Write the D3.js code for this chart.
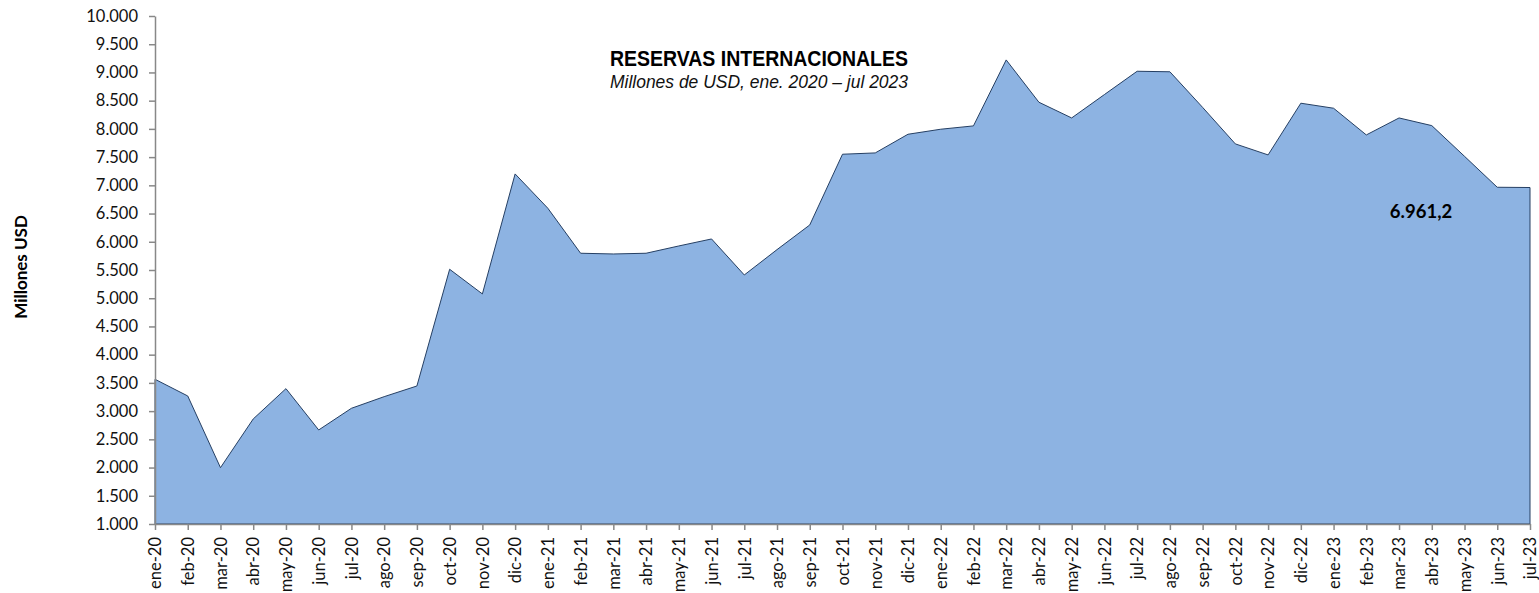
<!DOCTYPE html>
<html>
<head>
<meta charset="utf-8">
<script src="https://cdn.jsdelivr.net/npm/d3@7"></script>
<style>
  html, body { margin: 0; padding: 0; background: #ffffff; }
  svg { display: block; }
</style>
</head>
<body>
<svg id="chart" width="1539" height="593"></svg>
<script>
// Monthly international reserves, millions of USD
const months = [
  "ene-20","feb-20","mar-20","abr-20","may-20","jun-20","jul-20","ago-20","sep-20","oct-20","nov-20","dic-20",
  "ene-21","feb-21","mar-21","abr-21","may-21","jun-21","jul-21","ago-21","sep-21","oct-21","nov-21","dic-21",
  "ene-22","feb-22","mar-22","abr-22","may-22","jun-22","jul-22","ago-22","sep-22","oct-22","nov-22","dic-22",
  "ene-23","feb-23","mar-23","abr-23","may-23","jun-23","jul-23"
];
const reserves = [
  3564, 3268, 1998, 2861, 3398, 2666, 3050, 3256, 3445, 5513, 5076, 7202,
  6594, 5797, 5784, 5797, 5926, 6050, 5412, 5861, 6298, 7551, 7574, 7905,
  7994, 8053, 9222, 8472, 8194, 8608, 9021, 9012, 8381, 7734, 7539, 8455,
  8366, 7893, 8194, 8058, 7514, 6966, 6961.2
];
const yTicks = [1000,1500,2000,2500,3000,3500,4000,4500,5000,5500,6000,6500,7000,7500,8000,8500,9000,9500,10000];

const titleText = "RESERVAS INTERNACIONALES";
const subtitleText = "Millones de USD, ene. 2020 \u2013 jul 2023";
const yAxisTitle = "Millones USD";

const es = d3.formatLocale({ decimal: ",", thousands: ".", grouping: [3], currency: ["", ""] });
const fmtTick = es.format(",.0f");
const fmtLabel = es.format(",.1f");

const svg = d3.select("#chart");
const plot = { left: 155, right: 1530, top: 16, bottom: 524 };

const x = d3.scalePoint().domain(months).range([plot.left, plot.right]);
const y = d3.scaleLinear().domain([1000, 10000]).range([plot.bottom, plot.top]);

const data = months.map((m, i) => ({ m, v: reserves[i] }));

// Filled area with a dark outline
const area = d3.area()
  .x(d => x(d.m))
  .y0(y(1000))
  .y1(d => y(d.v));

svg.append("path")
  .datum(data)
  .attr("d", area)
  .attr("fill", "#8DB3E2")
  .attr("stroke", "#253F63")
  .attr("stroke-width", 1)
  .attr("stroke-linejoin", "miter");

const axisColor = "#888888";
const tickFont = "Lato, 'Open Sans', sans-serif";

// Y axis
const yAxis = svg.append("g")
  .attr("transform", `translate(${plot.left},0)`)
  .call(d3.axisLeft(y).tickValues(yTicks).tickFormat(fmtTick).tickSizeInner(6).tickSizeOuter(0).tickPadding(11));
yAxis.select(".domain").attr("stroke", axisColor).attr("stroke-width", 1.5);
yAxis.selectAll(".tick line").attr("stroke", axisColor).attr("stroke-width", 1.5);
yAxis.selectAll(".tick text")
  .attr("fill", "#111")
  .style("font-family", tickFont)
  .style("font-size", "16.5px");

// X axis
const xAxis = svg.append("g")
  .attr("transform", `translate(0,${plot.bottom})`)
  .call(d3.axisBottom(x).tickSizeInner(6).tickSizeOuter(0).tickPadding(0));
xAxis.select(".domain").attr("stroke", axisColor).attr("stroke-width", 1.5);
xAxis.selectAll(".tick line").attr("stroke", axisColor).attr("stroke-width", 1.5);
xAxis.selectAll(".tick text")
  .attr("fill", "#111")
  .style("font-family", tickFont)
  .style("font-size", "16.5px")
  .attr("text-anchor", "end")
  .attr("transform", "rotate(-90)")
  .attr("x", -13)
  .attr("y", 0)
  .attr("dy", "0.35em");

// Titles
svg.append("text")
  .attr("x", 610).attr("y", 66)
  .attr("textLength", 298).attr("lengthAdjust", "spacingAndGlyphs")
  .style("font-family", "'Liberation Sans', Arial, sans-serif")
  .style("font-weight", "bold")
  .style("font-size", "22px")
  .attr("fill", "#000")
  .text(titleText);

svg.append("text")
  .attr("x", 610).attr("y", 88)
  .attr("textLength", 298).attr("lengthAdjust", "spacingAndGlyphs")
  .style("font-family", "'Liberation Sans', Arial, sans-serif")
  .style("font-style", "italic")
  .style("font-size", "19px")
  .attr("fill", "#111")
  .text(subtitleText);

// Y axis title
svg.append("text")
  .attr("transform", "translate(27,267) rotate(-90)")
  .attr("text-anchor", "middle")
  .style("font-family", tickFont)
  .style("font-weight", "bold")
  .style("font-size", "17px")
  .attr("fill", "#000")
  .text(yAxisTitle);

// Value label for the latest month
const last = data[data.length - 1];
svg.append("text")
  .attr("x", x(last.m) - 109)
  .attr("y", y(last.v) + 30)
  .attr("text-anchor", "middle")
  .style("font-family", tickFont)
  .style("font-weight", "bold")
  .style("font-size", "18.5px")
  .attr("fill", "#000")
  .text(fmtLabel(last.v));
</script>
</body>
</html>
